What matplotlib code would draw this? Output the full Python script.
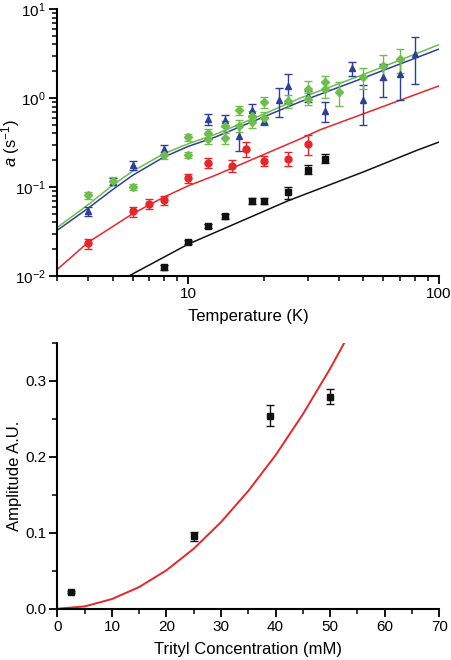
import numpy as np
import matplotlib
matplotlib.use("Agg")
import matplotlib.pyplot as plt
from matplotlib.ticker import FixedLocator, NullFormatter, MultipleLocator, FormatStrFormatter, LogLocator

plt.rcParams["font.family"] = ["Liberation Sans", "DejaVu Sans"]
plt.rcParams["mathtext.fontset"] = "custom"
plt.rcParams["mathtext.rm"] = "Liberation Sans"
plt.rcParams["mathtext.it"] = "Liberation Sans:italic"

# --- top panel: relaxation rate a vs temperature ---
black_T = [8, 10, 12, 14, 18, 20, 25, 30, 35]
black_a = [0.0125, 0.0242, 0.0363, 0.0467, 0.0697, 0.0697, 0.087, 0.157, 0.209]
black_err = [0.0007, 0.0015, 0.002, 0.0025, 0.005, 0.005, 0.014, 0.018, 0.025]

red_T = [4, 6, 7, 8, 10, 12, 15, 17, 20, 25, 30]
red_a = [0.0232, 0.0534, 0.0645, 0.071, 0.125, 0.188, 0.173, 0.27, 0.196, 0.208, 0.306]
red_err = [0.003, 0.007, 0.008, 0.008, 0.015, 0.023, 0.027, 0.05, 0.025, 0.037, 0.075]

blue_T = [4, 5, 6, 8, 12, 14, 16, 18, 20, 23, 25, 30, 35, 45, 50, 60, 70, 80]
blue_a = [0.0534, 0.115, 0.175, 0.266, 0.575, 0.56, 0.375, 0.736, 0.555, 0.95,
          1.37, 1.06, 0.72, 2.15, 0.95, 1.72, 1.86, 3.12]
blue_err = [0.006, 0.01, 0.02, 0.03, 0.08, 0.08, 0.12, 0.13, 0.06, 0.33,
            0.5, 0.15, 0.18, 0.4, 0.45, 0.7, 0.9, 1.7]

green_T = [4, 5, 6, 8, 10, 10, 12, 12, 14, 14, 16, 16, 18, 18, 20, 20, 25,
           30, 30, 35, 35, 40, 50, 60, 70]
green_a = [0.0807, 0.117, 0.1, 0.228, 0.363, 0.23, 0.40, 0.345, 0.485, 0.355,
           0.73, 0.49, 0.63, 0.535, 0.895, 0.6, 0.92, 1.26, 0.98, 1.5, 1.26,
           1.17, 1.72, 2.31, 2.74]
green_err = [0.008, 0.012, 0.008, 0.02, 0.035, 0.02, 0.05, 0.04, 0.06, 0.05,
             0.08, 0.07, 0.08, 0.07, 0.12, 0.09, 0.15, 0.3, 0.15, 0.25, 0.25,
             0.35, 0.45, 0.7, 0.85]

# fit curves
fit_black_T = [5.8, 10, 25, 50, 81.5, 100]
fit_black_a = [0.01, 0.0228, 0.07, 0.148, 0.258, 0.32]
fit_red_T = [3, 4, 6, 8, 10, 12.8, 28, 33.6, 100]
fit_red_a = [0.0118, 0.024, 0.05, 0.077, 0.103, 0.135, 0.348, 0.44, 1.37]
fit_blue_T = [3, 4, 5, 6, 8, 10, 12.8, 28, 50, 100]
fit_blue_a = [0.0325, 0.058, 0.0935, 0.135, 0.217, 0.286, 0.363, 0.91, 1.68, 3.55]
fit_green_T = [3, 4, 5, 6, 8, 10, 12.8, 20, 28, 50, 100]
fit_green_a = [0.035, 0.0636, 0.105, 0.15, 0.237, 0.306, 0.39, 0.66, 1.0, 1.84, 3.98]

# --- bottom panel: amplitude vs trityl concentration ---
conc = [2.5, 25, 39, 50]
amp = [0.0223, 0.0954, 0.254, 0.279]
amp_err = [0.0015, 0.006, 0.014, 0.01]
fit_conc = [0, 5, 10, 15, 20, 25, 30, 35, 40, 45, 50, 52.6]
fit_amp = [0, 0.003, 0.0127, 0.0285, 0.0506, 0.079, 0.114, 0.155, 0.202, 0.256, 0.316, 0.35]

BLACK = "#111111"
RED = "#e8262a"
BLUE = "#2f3f99"
GREEN = "#6cbf4a"

fig = plt.figure(figsize=(4.52, 6.60), dpi=100)
ax1 = fig.add_axes([0.1261, 0.5818, 0.8451, 0.4045])
ax2 = fig.add_axes([0.1268, 0.0777, 0.8451, 0.403])


def style_axes(ax):
    for side in ("top", "right"):
        ax.spines[side].set_visible(False)
    for side in ("left", "bottom"):
        ax.spines[side].set_linewidth(1.5)
    ax.tick_params(which="major", direction="out", length=6, width=1.3, labelsize=11, pad=2)
    ax.tick_params(which="minor", direction="out", length=3.5, width=1.1)


eb = dict(capsize=3, elinewidth=1.0, capthick=1.0, ls="none")
ax1.plot(fit_black_T, fit_black_a, color=BLACK, lw=1.1)
ax1.plot(fit_red_T, fit_red_a, color=RED, lw=1.1)
ax1.plot(fit_blue_T, fit_blue_a, color=BLUE, lw=1.1)
ax1.plot(fit_green_T, fit_green_a, color=GREEN, lw=1.1)
ax1.errorbar(black_T, black_a, yerr=black_err, marker="s", ms=4, color=BLACK, **eb)
ax1.errorbar(red_T, red_a, yerr=red_err, marker="o", ms=5, color=RED, **eb)
ax1.errorbar(blue_T, blue_a, yerr=blue_err, marker="^", ms=5, color=BLUE, **eb)
ax1.errorbar(green_T, green_a, yerr=green_err, marker="D", ms=4, color=GREEN, **eb)

ax1.set_xscale("log")
ax1.set_yscale("log")
ax1.set_xlim(3, 100)
ax1.set_ylim(0.01, 10)
ax1.xaxis.set_major_locator(FixedLocator([10, 100]))
ax1.xaxis.set_major_formatter(FormatStrFormatter("%d"))
ax1.xaxis.set_minor_locator(FixedLocator([3, 4, 5, 6, 7, 8, 9, 20, 30, 40, 50, 60, 70, 80, 90]))
ax1.xaxis.set_minor_formatter(NullFormatter())
ax1.yaxis.set_major_locator(LogLocator(base=10, numticks=10))
ax1.yaxis.set_minor_locator(LogLocator(base=10, subs=np.arange(2, 10), numticks=10))
ax1.yaxis.set_minor_formatter(NullFormatter())
style_axes(ax1)
ax1.set_xlabel("Temperature (K)", fontsize=12, labelpad=6)
ax1.set_ylabel(r"$a$ (s$^{-1}$)", fontsize=12)
ax1.yaxis.set_label_coords(-0.092, 0.5)

ax2.plot(fit_conc, fit_amp, color=RED, lw=1.4)
ax2.errorbar(conc, amp, yerr=amp_err, marker="s", ms=4, color=BLACK, **eb)
ax2.set_xlim(0, 70)
ax2.set_ylim(0, 0.35)
ax2.xaxis.set_major_locator(MultipleLocator(10))
ax2.xaxis.set_minor_locator(MultipleLocator(5))
ax2.yaxis.set_major_locator(MultipleLocator(0.1))
ax2.yaxis.set_minor_locator(MultipleLocator(0.05))
ax2.yaxis.set_major_formatter(FormatStrFormatter("%.1f"))
style_axes(ax2)
ax2.set_xlabel("Trityl Concentration (mM)", fontsize=12, labelpad=6)
ax2.set_ylabel("Amplitude A.U.", fontsize=12)
ax2.yaxis.set_label_coords(-0.092, 0.5)

fig.savefig("out.png", dpi=100)
